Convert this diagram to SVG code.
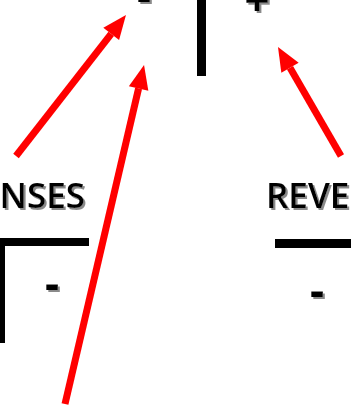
<svg xmlns="http://www.w3.org/2000/svg" width="351" height="413" viewBox="0 0 351 413">
  <defs>
    <style>
      .label { font-family: "Open Sans", "Liberation Sans", sans-serif; font-weight: 600; font-size: 35px; fill: #000; filter: url(#drop); }
      .sign { font-family: "Open Sans", "Liberation Sans", sans-serif; font-weight: bold; font-size: 44px; fill: #000; text-anchor: middle; filter: url(#drop); }
      .bar { fill: #000; }
      .arrow { stroke: #ff0000; stroke-width: 7; fill: none; marker-end: url(#head); }
    </style>
    <!-- soft grey drop shadow used on the labels and signs -->
    <filter id="drop" x="-20%" y="-20%" width="150%" height="160%">
      <feOffset in="SourceAlpha" dx="2" dy="2" result="off"/>
      <feGaussianBlur in="off" stdDeviation="0.6" result="blur"/>
      <feFlood flood-color="#8a8a8a"/>
      <feComposite in2="blur" operator="in" result="shadow"/>
      <feMerge>
        <feMergeNode in="shadow"/>
        <feMergeNode in="SourceGraphic"/>
      </feMerge>
    </filter>
    <!-- arrowhead: base sits at the line end, tip 24px beyond -->
    <marker id="head" markerUnits="userSpaceOnUse" markerWidth="26" markerHeight="22" refX="0" refY="10" orient="auto" overflow="visible">
      <path d="M0,0 L24,10 L0,20 Z" fill="#ff0000"/>
    </marker>
  </defs>

  <!-- top T-account: debit / credit split -->
  <g id="account-top">
    <rect class="bar" x="197" y="0" width="9" height="76"/>
    <text class="sign" x="144" y="11">-</text>
    <text class="sign" x="257" y="16">+</text>
  </g>

  <!-- expenses T-account -->
  <g id="expenses">
    <text class="label" x="85" y="208" text-anchor="end">EXPENSES</text>
    <rect class="bar" x="-4" y="238" width="93" height="8"/>
    <rect class="bar" x="-4" y="238" width="9" height="105"/>
    <text class="sign" x="52" y="299">-</text>
  </g>

  <!-- revenues T-account -->
  <g id="revenues">
    <text class="label" x="266" y="208">REVENUES</text>
    <rect class="bar" x="275" y="239" width="80" height="9"/>
    <text class="sign" x="317" y="306">-</text>
  </g>

  <!-- connectors -->
  <g id="connectors">
    <line class="arrow" x1="16" y1="156" x2="111.2" y2="33.9"/>
    <line class="arrow" x1="65" y1="404" x2="138.6" y2="88.4"/>
    <line class="arrow" x1="341" y1="156" x2="290" y2="67.8"/>
  </g>
</svg>
